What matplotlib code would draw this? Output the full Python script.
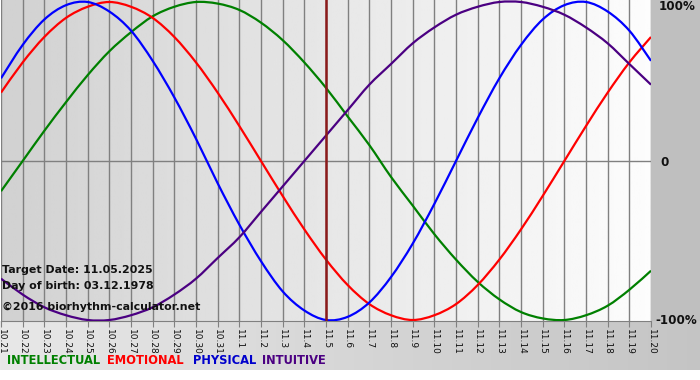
import matplotlib
matplotlib.use("Agg")
import matplotlib.pyplot as plt
from matplotlib.path import Path
from matplotlib.patches import PathPatch
import numpy as np

# days shown (month.day)
days = ["10.21", "10.22", "10.23", "10.24", "10.25", "10.26", "10.27", "10.28",
        "10.29", "10.30", "10.31", "11.1", "11.2", "11.3", "11.4", "11.5",
        "11.6", "11.7", "11.8", "11.9", "11.10", "11.11", "11.12", "11.13",
        "11.14", "11.15", "11.16", "11.17", "11.18", "11.19", "11.20"]

physical = [0.52, 0.73, 0.89, 0.98, 1.00, 0.94, 0.82, 0.63, 0.40, 0.14, -0.14,
            -0.40, -0.63, -0.82, -0.94, -1.00, -0.98, -0.89, -0.73, -0.52, -0.27,
            0.00, 0.27, 0.52, 0.73, 0.89, 0.98, 1.00, 0.94, 0.82, 0.63]
emotional = [0.43, 0.62, 0.78, 0.90, 0.97, 1.00, 0.97, 0.90, 0.78, 0.62, 0.43,
             0.22, 0.00, -0.22, -0.43, -0.62, -0.78, -0.90, -0.97, -1.00, -0.97,
             -0.90, -0.78, -0.62, -0.43, -0.22, 0.00, 0.22, 0.43, 0.62, 0.78]
intellectual = [-0.19, 0.00, 0.19, 0.37, 0.54, 0.69, 0.81, 0.91, 0.97, 1.00, 0.99,
                0.95, 0.87, 0.76, 0.62, 0.46, 0.28, 0.10, -0.10, -0.28, -0.46,
                -0.62, -0.76, -0.87, -0.95, -0.99, -1.00, -0.97, -0.91, -0.81, -0.69]
intuitive = [-0.74, -0.84, -0.92, -0.97, -1.00, -1.00, -0.97, -0.92, -0.84, -0.74, -0.61,
             -0.48, -0.32, -0.16, 0.00, 0.16, 0.32, 0.48, 0.61, 0.74, 0.84,
             0.92, 0.97, 1.00, 1.00, 0.97, 0.92, 0.84, 0.74, 0.61, 0.48]

target_day = "11.5"
target_text = "Target Date: 11.05.2025"
birth_text = "Day of birth: 03.12.1978"
credit_text = "\u00a92016 biorhythm-calculator.net"

W, H = 700, 380
fig = plt.figure(figsize=(W / 100, H / 100), dpi=100)


def px(x, y):
    return x / W, 1 - y / H


def smooth_line(ax, xv, yv, color):
    # draw the daily values as a smooth (Catmull-Rom style) bezier path
    xv = np.asarray(xv, float)
    yv = np.asarray(yv, float)
    n = len(xv)
    verts = [(xv[0], yv[0])]
    codes = [Path.MOVETO]
    for i in range(n - 1):
        i0 = max(i - 1, 0)
        i3 = min(i + 2, n - 1)
        c1 = (xv[i] + (xv[i + 1] - xv[i0]) / 6, yv[i] + (yv[i + 1] - yv[i0]) / 6)
        c2 = (xv[i + 1] - (xv[i3] - xv[i]) / 6, yv[i + 1] - (yv[i3] - yv[i]) / 6)
        verts += [c1, c2, (xv[i + 1], yv[i + 1])]
        codes += [Path.CURVE4] * 3
    ax.add_patch(PathPatch(Path(verts, codes), facecolor="none", edgecolor=color,
                           lw=1.6, zorder=3, capstyle="butt"))


# whole-figure background
bg = fig.add_axes([0, 0, 1, 1], zorder=-10)
bg.set_axis_off()
img = np.ones((H, W, 3))
xs = np.linspace(0, 1, W)
for c in range(3):
    img[321:370, :, c] = (0.91 - 0.14 * xs)[None, :]
img[0:321, 651:, :] = 0.75
bg.imshow(img, aspect="auto", extent=(0, W, H, 0), interpolation="bilinear")
bg.set_xlim(0, W)
bg.set_ylim(H, 0)

left, right = 1, 651
top, bottom = 0, 321
ax = fig.add_axes([left / W, 1 - bottom / H, (right - left) / W, (bottom - top) / H])
x = np.arange(len(days))
ymax = 1 + 2 / 159
ymin = -1 - 1 / 159
ax.set_xlim(0, len(days) - 1)
ax.set_ylim(ymin, ymax)

grad = np.linspace(0.82, 0.99, 256)[None, :]
ax.imshow(grad, cmap="gray", vmin=0, vmax=1, aspect="auto",
          extent=(0, len(days) - 1, ymin, ymax), zorder=0)

for xi in x:
    ax.axvline(xi, color="#808080", lw=1.0, zorder=1)
ax.axhline(0, color="#808080", lw=1.0, zorder=1)

smooth_line(ax, x, intellectual, "#008000")
smooth_line(ax, x, emotional, "#ff0000")
smooth_line(ax, x, physical, "#0000ff")
smooth_line(ax, x, intuitive, "#4b0082")
ax.axvline(days.index(target_day), color="#8b1a1a", lw=1.8, zorder=4)

for s in ["top", "left", "right"]:
    ax.spines[s].set_visible(False)
ax.spines["bottom"].set_color("#808080")
ax.set_yticks([])
ax.set_xticks(x)
ax.set_xticklabels(days, rotation=-90, fontsize=6.5, color="#111111")
ax.tick_params(axis="x", length=4, color="#808080", pad=2)

bold = dict(fontweight="bold", fontsize=7.9, color="#111111", family="DejaVu Sans")
ax.text(0.002, (321 - 270) / 321, target_text, transform=ax.transAxes, va="center", zorder=5, **bold)
ax.text(0.002, (321 - 286) / 321, birth_text, transform=ax.transAxes, va="center", zorder=5, **bold)
ax.text(0.002, (321 - 307) / 321, credit_text, transform=ax.transAxes, va="center", zorder=5, **bold)

rl = dict(fontweight="bold", fontsize=8.6, color="#111111", va="center", ha="left")
fig.text(*px(659, 7), "100%", **rl)
fig.text(*px(660, 162), "0", **rl)
fig.text(*px(655, 321), "-100%", **rl)

legend_items = [("INTELLECTUAL", "#008000", 7), ("EMOTIONAL", "#ff0000", 107),
                ("PHYSICAL", "#0000cc", 193), ("INTUITIVE", "#4b0082", 262)]
for name, col, xp in legend_items:
    fig.text(*px(xp, 361), name, color=col, fontweight="bold", fontsize=8.3, va="center")

fig.savefig("out.png", dpi=100)
